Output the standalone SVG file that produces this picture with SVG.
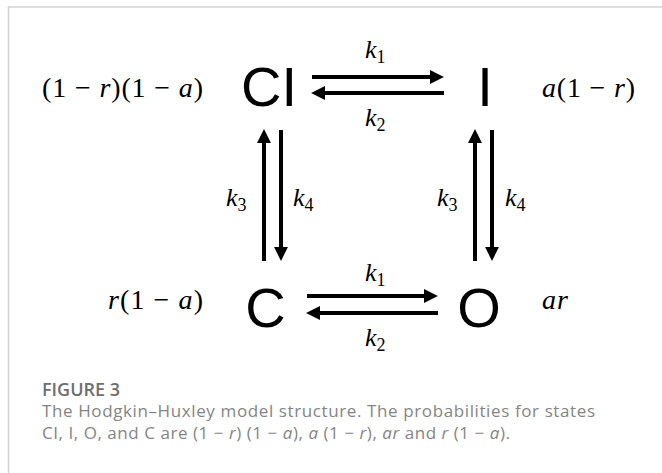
<svg xmlns="http://www.w3.org/2000/svg" width="662" height="473" viewBox="0 0 662 473">
  <style>
    .state { font-family: "Liberation Sans", Arial, sans-serif; font-size: 56px; fill: #000; }
    .math { font-family: "Liberation Serif", "Times New Roman", serif; font-size: 28px; fill: #000; }
    .it { font-style: italic; }
    .k { font-family: "Liberation Serif", "Times New Roman", serif; font-size: 26px; font-style: italic; fill: #000; }
    .sub { font-size: 18px; font-style: normal; }
    .conn { stroke: #000; stroke-width: 4; fill: none; marker-end: url(#head); }
    .frame { stroke: #d4d4d4; stroke-width: 1.6; fill: none; }
    .figlabel { font-family: "Open Sans", Lato, sans-serif; font-size: 18px; font-weight: 600; fill: #6e6e6e; }
    .caption { font-family: "Open Sans", Lato, sans-serif; font-size: 17px; fill: #858585; }
  </style>
  <defs>
    <marker id="head" markerUnits="userSpaceOnUse" markerWidth="14" markerHeight="14" viewBox="0 0 13 13" refX="1" refY="6.5" orient="auto">
      <path d="M0,0 L13,6.5 L0,13 Z" fill="#000"/>
    </marker>
  </defs>
  <rect width="662" height="473" fill="#fff"/>
  <path class="frame" d="M8.5,473 L8.5,7 L662,7"/>

  <g id="node-CI">
    <text class="state" x="241" y="106">CI</text>
    <text class="math" x="42" y="97" textLength="161">(1 − <tspan class="it">r</tspan>)(1 − <tspan class="it">a</tspan>)</text>
  </g>
  <g id="node-I">
    <text class="state" x="485" y="106" text-anchor="middle">I</text>
    <text class="math" x="542" y="97" textLength="93"><tspan class="it">a</tspan>(1 − <tspan class="it">r</tspan>)</text>
  </g>
  <g id="node-C">
    <text class="state" x="265.5" y="327" text-anchor="middle">C</text>
    <text class="math" x="108" y="309" textLength="95"><tspan class="it">r</tspan>(1 − <tspan class="it">a</tspan>)</text>
  </g>
  <g id="node-O">
    <text class="state" x="479" y="327" text-anchor="middle">O</text>
    <text class="math it" x="542" y="309" textLength="26">ar</text>
  </g>

  <g id="connectors">
    <line class="conn" x1="312" y1="77" x2="431" y2="77"/>
    <line class="conn" x1="444" y1="93" x2="324" y2="93"/>
    <line class="conn" x1="264" y1="261" x2="264" y2="142"/>
    <line class="conn" x1="281" y1="130" x2="281" y2="248"/>
    <line class="conn" x1="475" y1="261" x2="475" y2="142"/>
    <line class="conn" x1="492" y1="130" x2="492" y2="248"/>
    <line class="conn" x1="307" y1="296" x2="425" y2="296"/>
    <line class="conn" x1="438" y1="313" x2="319" y2="313"/>
    <text class="k" x="365" y="58">k<tspan class="sub" dy="5">1</tspan></text>
    <text class="k" x="365" y="126">k<tspan class="sub" dy="5">2</tspan></text>
    <text class="k" x="226" y="206">k<tspan class="sub" dy="5">3</tspan></text>
    <text class="k" x="293" y="206">k<tspan class="sub" dy="5">4</tspan></text>
    <text class="k" x="437" y="206">k<tspan class="sub" dy="5">3</tspan></text>
    <text class="k" x="505" y="206">k<tspan class="sub" dy="5">4</tspan></text>
    <text class="k" x="365" y="281">k<tspan class="sub" dy="5">1</tspan></text>
    <text class="k" x="365" y="346">k<tspan class="sub" dy="5">2</tspan></text>
  </g>

  <g id="caption">
    <text class="figlabel" x="42" y="396">FIGURE 3</text>
    <text class="caption" x="42" y="417" textLength="553">The Hodgkin–Huxley model structure. The probabilities for states</text>
    <text class="caption" x="42" y="439" textLength="468">CI, I, O, and C are  (1 − <tspan class="it">r</tspan>) (1 − <tspan class="it">a</tspan>), <tspan class="it">a</tspan> (1 − <tspan class="it">r</tspan>), <tspan class="it">ar</tspan> and <tspan class="it">r</tspan> (1 − <tspan class="it">a</tspan>).</text>
  </g>
</svg>
